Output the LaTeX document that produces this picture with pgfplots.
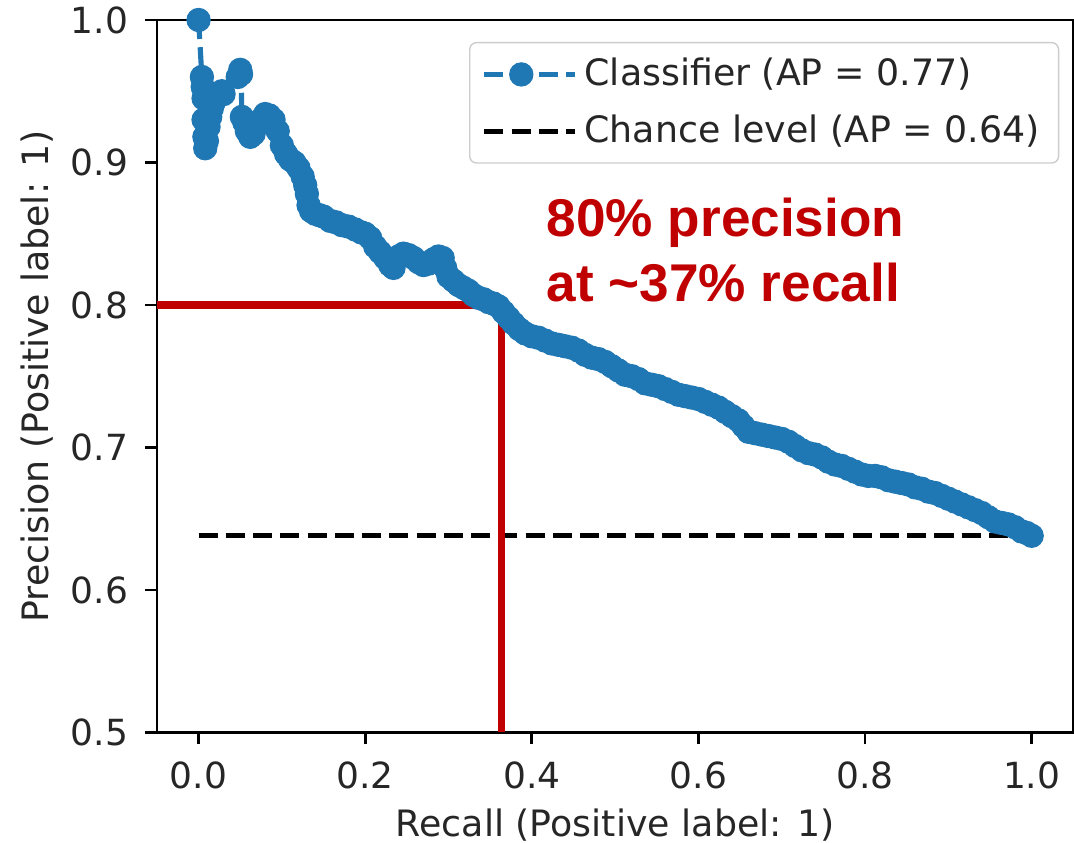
\documentclass[border=0pt]{standalone}
\usepackage{fontspec}
\setmainfont{DejaVu Sans}
\newfontfamily\notefont{Liberation Sans}
\usepackage{pgfplots}
\pgfplotsset{compat=1.18}
\definecolor{tabblue}{HTML}{1F77B4}
\definecolor{notered}{HTML}{C00000}

\begin{document}
\begin{tikzpicture}
\begin{axis}[
    scale only axis, width=267.3pt, height=207.8pt,
    xmin=-0.05, xmax=1.05, ymin=0.5, ymax=1.0,
    xtick={0,0.2,0.4,0.6,0.8,1.0},
    ytick={0.5,0.6,0.7,0.8,0.9,1.0},
    tick align=outside, xtick pos=left, ytick pos=left,
    major tick length=3.5pt,
    major tick style={black, line width=0.8pt},
    axis line style={line width=0.8pt},
    ticklabel style={font=\fontsize{10.5}{12}\selectfont, text=black!85},
    xticklabel shift=1.4pt, yticklabel shift=1.4pt,
    /pgf/number format/fixed, /pgf/number format/fixed zerofill,
    /pgf/number format/precision=1, /pgf/number format/assume math mode=true,
    xlabel={Recall (Positive label: 1)},
    ylabel={Precision (Positive label: 1)},
    label style={font=\fontsize{10.6}{12}\selectfont, text=black!85},
    xlabel style={at={(axis description cs:0.5,-0.1458)}, anchor=base},
    ylabel style={at={(axis description cs:-0.131,0.5)}, anchor=center},
    legend style={at={(1,1)}, anchor=north east, xshift=-4.1pt, yshift=-6.4pt,
        draw=black!20, rounded corners=2pt, font=\fontsize{10.6}{12}\selectfont,
        text=black!85, inner xsep=3.5pt, inner ysep=2.5pt, row sep=3pt},
    legend cell align=left,
    legend image code/.code={\path (0pt,0pt) -- (26.5pt,0pt);
        \draw[mark repeat=2, mark phase=2, #1] plot coordinates {(0pt,0pt) (10.8pt,0pt) (21.6pt,0pt)};},
]
% precision-recall curve of the classifier
\addplot[tabblue, line width=1.5pt, dash pattern=on 5.55pt off 2.4pt,
    mark=*, mark size=3.4pt, mark options={solid, fill=tabblue, draw=tabblue, line width=0.3pt}]
coordinates {
(0.000,1.000) (0.004,0.960) (0.005,0.953) (0.006,0.945) (0.006,0.930)
(0.007,0.918) (0.008,0.910) (0.010,0.915) (0.012,0.925) (0.014,0.932)
(0.016,0.938) (0.018,0.942) (0.020,0.945) (0.024,0.947) (0.028,0.950)
(0.030,0.948) (0.047,0.960) (0.050,0.965) (0.051,0.962) (0.052,0.932)
(0.055,0.928) (0.058,0.922) (0.062,0.918) (0.066,0.920) (0.070,0.926)
(0.075,0.930) (0.080,0.934) (0.085,0.933) (0.090,0.930) (0.095,0.922)
(0.100,0.912) (0.105,0.906) (0.110,0.902) (0.115,0.900) (0.120,0.896)
(0.125,0.890) (0.128,0.884) (0.130,0.878) (0.132,0.870) (0.135,0.866)
(0.140,0.864) (0.145,0.863) (0.150,0.862) (0.158,0.859) (0.165,0.858)
(0.172,0.856) (0.180,0.855) (0.188,0.853) (0.195,0.851) (0.200,0.850)
(0.206,0.847) (0.212,0.841) (0.218,0.837) (0.224,0.833) (0.230,0.828)
(0.234,0.826) (0.240,0.834) (0.246,0.836) (0.252,0.835) (0.258,0.833)
(0.264,0.830) (0.270,0.828) (0.276,0.829) (0.282,0.832) (0.288,0.834)
(0.293,0.833) (0.296,0.826) (0.300,0.820) (0.306,0.817) (0.312,0.814)
(0.318,0.812) (0.324,0.810) (0.330,0.807) (0.336,0.805) (0.342,0.804)
(0.348,0.802) (0.354,0.801) (0.360,0.799) (0.366,0.795) (0.372,0.791)
(0.378,0.787) (0.385,0.783) (0.392,0.780) (0.400,0.778) (0.408,0.777)
(0.416,0.775) (0.424,0.773) (0.432,0.772) (0.440,0.771) (0.448,0.770)
(0.456,0.768) (0.464,0.765) (0.472,0.763) (0.480,0.762) (0.488,0.760)
(0.496,0.757) (0.504,0.754) (0.512,0.751) (0.520,0.750) (0.528,0.748)
(0.536,0.745) (0.544,0.744) (0.552,0.743) (0.560,0.741) (0.568,0.739)
(0.576,0.737) (0.584,0.736) (0.592,0.735) (0.600,0.734) (0.608,0.732)
(0.616,0.730) (0.624,0.728) (0.632,0.725) (0.640,0.722) (0.648,0.719)
(0.654,0.715) (0.660,0.711) (0.668,0.710) (0.676,0.709) (0.684,0.708)
(0.692,0.707) (0.700,0.706) (0.708,0.704) (0.716,0.701) (0.724,0.698)
(0.732,0.696) (0.740,0.695) (0.748,0.693) (0.756,0.690) (0.764,0.688)
(0.772,0.687) (0.780,0.685) (0.788,0.683) (0.796,0.681) (0.804,0.680)
(0.812,0.680) (0.820,0.679) (0.828,0.677) (0.836,0.676) (0.844,0.675)
(0.852,0.674) (0.860,0.672) (0.868,0.671) (0.876,0.669) (0.884,0.668)
(0.892,0.666) (0.900,0.664) (0.908,0.662) (0.916,0.660) (0.924,0.658)
(0.932,0.656) (0.940,0.654) (0.948,0.651) (0.956,0.648) (0.964,0.647)
(0.972,0.646) (0.980,0.644) (0.988,0.641) (0.994,0.640) (1.000,0.638)
};
\addlegendentry{Classifier (AP = 0.77)}
% chance level
\addplot[black, line width=1.5pt, dash pattern=on 5.55pt off 2.4pt]
coordinates {(0,0.638) (1,0.638)};
\addlegendentry{Chance level (AP = 0.64)}
% annotation
\addplot[notered, line width=2.2pt, forget plot]
coordinates {(-0.05,0.8) (0.3634,0.8) (0.3634,0.5)};
\node[anchor=base west, text=notered, inner sep=0pt,
    font=\notefont\bfseries\fontsize{15.5}{19}\selectfont]
    at (axis cs:0.4172,0.8478) {80\% precision};
\node[anchor=base west, text=notered, inner sep=0pt,
    font=\notefont\bfseries\fontsize{15.5}{19}\selectfont]
    at (axis cs:0.4172,0.8022) {at \textasciitilde37\% recall};
\coordinate (sw) at (rel axis cs:0,0);
\coordinate (ne) at (rel axis cs:1,1);
\end{axis}
\pgfresetboundingbox
\path ([shift={(-45.77pt,-32.07pt)}]sw) rectangle ([shift={(0.2pt,5.83pt)}]ne);
\end{tikzpicture}
\end{document}
